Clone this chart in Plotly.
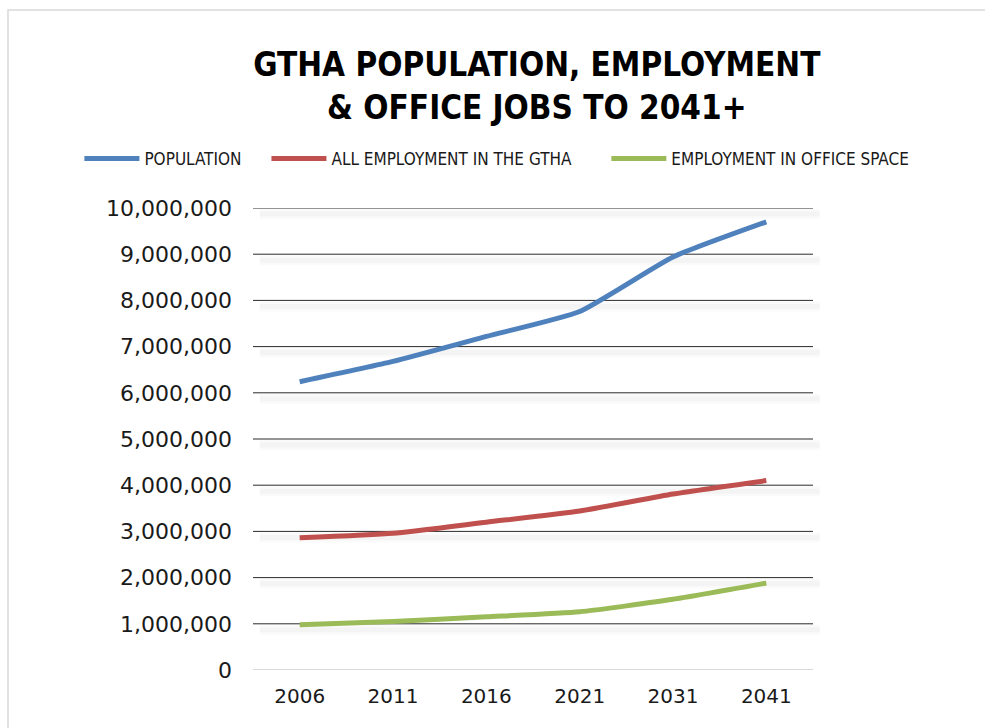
import plotly.graph_objects as go

# Census years and projections for the Greater Toronto and Hamilton Area
years = ["2006", "2011", "2016", "2021", "2031", "2041"]
population = [6240000, 6680000, 7220000, 7760000, 8940000, 9700000]
all_employment = [2860000, 2960000, 3200000, 3440000, 3810000, 4100000]
office_employment = [980000, 1050000, 1150000, 1260000, 1530000, 1880000]

series_names = ["POPULATION", "ALL EMPLOYMENT IN THE GTHA", "EMPLOYMENT IN OFFICE SPACE"]
series_colors = ["#4F81BD", "#C0504D", "#9BBB59"]
y_ticks = list(range(0, 10000001, 1000000))

COND = "DejaVu Sans Condensed, Liberation Sans, sans-serif"

# one single-entry legend per series so each entry can sit in its own slot
legend_ids = ["legend", "legend2", "legend3"]
legend_x = [-0.31, 0.024, 0.631]

fig = go.Figure()
for name, values, color, lid in zip(series_names, [population, all_employment, office_employment],
                                    series_colors, legend_ids):
    fig.add_trace(go.Scatter(
        x=years, y=values, name=name, mode="lines", legend=lid,
        line=dict(color=color, width=5, shape="spline", smoothing=0.5),
        hoverinfo="x+y+name",
    ))

# Gridlines with a soft drop shadow underneath
shapes = []
for t in y_ticks:
    for off, w, a in [(-6, 10, 0.018), (-6, 5, 0.022)]:
        shapes.append(dict(type="line", xref="x domain", yref="y", x0=0.012, x1=1.012,
                           ysizemode="pixel", yanchor=t, y0=off, y1=off,
                           line=dict(color=f"rgba(0,0,0,{a})", width=w), layer="below"))
    shapes.append(dict(type="line", xref="x domain", yref="y", x0=0, x1=1, y0=t, y1=t,
                       line=dict(color="#d9d9d9" if t == 0 else "#2a2a2a", width=2 if t == 0 else 1),
                       layer="below"))
# Chart area outline
shapes.append(dict(type="rect", xref="paper", yref="paper", x0=-0.4375, x1=2, y0=-1, y1=1.4286,
                   line=dict(color="#d9d9d9", width=1.5), fillcolor="rgba(0,0,0,0)", layer="below"))

legend_style = dict(
    orientation="h", xanchor="left", y=1.106, yanchor="middle",
    font=dict(family=COND, size=17, color="#1a1a1a"),
    bgcolor="rgba(0,0,0,0)", itemwidth=55,
)

fig.update_layout(
    width=985, height=728,
    margin=dict(l=253, r=172, t=208, b=58, autoexpand=False),
    paper_bgcolor="white", plot_bgcolor="white",
    title=dict(
        text="GTHA POPULATION, EMPLOYMENT<br>& OFFICE JOBS TO 2041+",
        x=0.545, xref="container", xanchor="center",
        y=1 - 76 / 728, yref="container", yanchor="middle",
        font=dict(family=COND, size=33, color="black", weight="bold"),
    ),
    showlegend=True,
    shapes=shapes,
    xaxis=dict(
        type="category", range=[-0.5, 5.5], showgrid=False, showline=False, zeroline=False,
        ticks="", ticklabelstandoff=12,
        tickfont=dict(family="DejaVu Sans", size=20, color="#1a1a1a"),
        tickangle=0, fixedrange=True,
    ),
    yaxis=dict(
        range=[0, 10000000], tickvals=y_ticks, tickformat=",d", showgrid=False,
        showline=False, zeroline=False, ticks="", ticklabelstandoff=20,
        tickfont=dict(family="DejaVu Sans", size=22, color="#1a1a1a"),
        fixedrange=True,
    ),
)
for lid, lx in zip(legend_ids, legend_x):
    fig.update_layout({lid: dict(legend_style, x=lx)})

fig.write_html("out.html")
